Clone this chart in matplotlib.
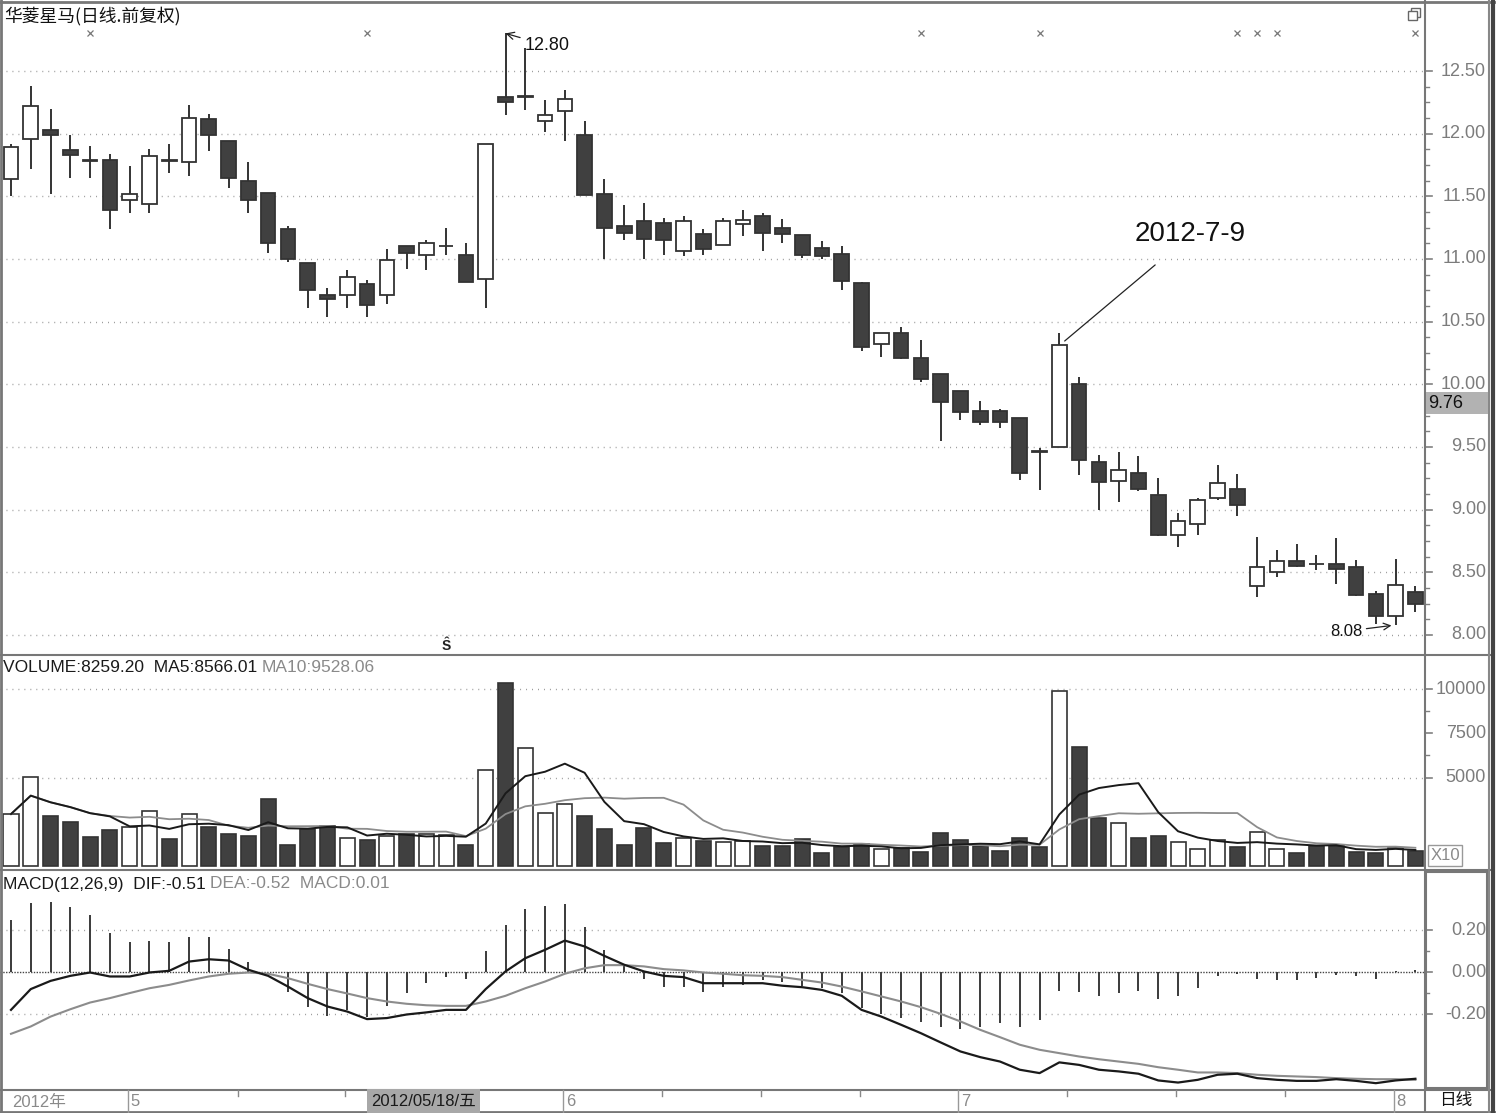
import numpy as np
import pandas as pd
import matplotlib
matplotlib.use('Agg')
import matplotlib.pyplot as plt
import matplotlib.transforms as mtrans
from matplotlib.patches import Rectangle

plt.rcParams['font.family'] = ['Liberation Sans', 'Noto Sans CJK SC', 'DejaVu Sans']

W, H = 1496, 1113

# ---------------- data ----------------
stock_title = '华菱星马(日线.前复权)'

opens = [11.64, 11.96, 12.03, 11.87, 11.79, 11.79, 11.47, 11.44, 11.79, 11.77,
         12.12, 11.94, 11.625, 11.53, 11.24, 10.965, 10.715, 10.71, 10.80, 10.71,
         11.10, 11.03, 11.10, 11.035, 10.84, 12.29, 12.29, 12.10, 12.18, 11.99,
         11.52, 11.26, 11.305, 11.285, 11.06, 11.20, 11.11, 11.28, 11.34, 11.245,
         11.19, 11.085, 11.04, 10.805, 10.32, 10.41, 10.21, 10.08, 9.95, 9.79,
         9.79, 9.73, 9.465, 9.50, 10.00, 9.38, 9.23, 9.295, 9.12, 8.80,
         8.885, 9.095, 9.165, 8.39, 8.50, 8.59, 8.57, 8.57, 8.54, 8.325,
         8.15, 8.345]
highs = [11.915, 12.38, 12.20, 11.99, 11.90, 11.84, 11.74, 11.875, 11.92, 12.23,
         12.155, 11.94, 11.77, 11.53, 11.26, 10.965, 10.77, 10.91, 10.83, 11.08,
         11.10, 11.15, 11.245, 11.13, 11.915, 12.80, 12.68, 12.27, 12.35, 12.10,
         11.64, 11.43, 11.45, 11.33, 11.34, 11.24, 11.325, 11.39, 11.37, 11.32,
         11.19, 11.145, 11.10, 10.82, 10.41, 10.455, 10.355, 10.08, 9.95, 9.87,
         9.80, 9.73, 9.49, 10.41, 10.06, 9.44, 9.46, 9.43, 9.25, 8.97,
         9.095, 9.36, 9.285, 8.785, 8.68, 8.73, 8.64, 8.77, 8.60, 8.35,
         8.61, 8.39]
lows = [11.50, 11.72, 11.52, 11.65, 11.65, 11.24, 11.37, 11.37, 11.69, 11.66,
        11.86, 11.57, 11.37, 11.045, 10.98, 10.61, 10.535, 10.61, 10.535, 10.64,
        10.92, 10.91, 11.03, 10.82, 10.61, 12.15, 12.19, 12.01, 11.94, 11.51,
        11.00, 11.15, 11.00, 11.03, 11.02, 11.03, 11.11, 11.18, 11.06, 11.125,
        11.01, 11.00, 10.75, 10.265, 10.215, 10.20, 10.02, 9.55, 9.715, 9.675,
        9.65, 9.24, 9.16, 9.50, 9.28, 9.00, 9.06, 9.15, 8.79, 8.705,
        8.80, 9.08, 8.95, 8.305, 8.46, 8.545, 8.52, 8.41, 8.31, 8.09,
        8.08, 8.18]
closes = [11.89, 12.22, 11.99, 11.83, 11.78, 11.39, 11.52, 11.82, 11.78, 12.125,
          11.99, 11.65, 11.47, 11.13, 11.00, 10.75, 10.68, 10.86, 10.63, 10.99,
          11.05, 11.125, 11.10, 10.82, 11.915, 12.25, 12.30, 12.15, 12.28, 11.51,
          11.245, 11.21, 11.16, 11.15, 11.305, 11.08, 11.30, 11.31, 11.21, 11.20,
          11.03, 11.02, 10.825, 10.30, 10.41, 10.21, 10.04, 9.86, 9.78, 9.70,
          9.70, 9.29, 9.46, 10.31, 9.40, 9.22, 9.32, 9.165, 8.80, 8.91,
          9.08, 9.21, 9.04, 8.545, 8.59, 8.55, 8.565, 8.53, 8.32, 8.15,
          8.40, 8.25]
volumes = [2940, 5020, 2850, 2510, 1620, 2040, 2190, 3090, 1550, 2940,
           2190, 1790, 1700, 3770, 1210, 2090, 2280, 1585, 1450, 1720,
           1790, 1810, 1755, 1210, 5430, 10340, 6660, 3020, 3490, 2850,
           2110, 1210, 2170, 1280, 1600, 1400, 1380, 1415, 1130, 1130,
           1530, 715, 1095, 1265, 940, 1000, 810, 1890, 1450, 1150,
           870, 1600, 1055, 9905, 6755, 2735, 2430, 1600, 1700, 1360,
           940, 1470, 1055, 1925, 940, 720, 1150, 1150, 810, 720,
           1020, 826]
dif = [-0.178, -0.079, -0.040, -0.016, 0.000, -0.019, -0.019, 0.000, 0.008, 0.052,
       0.063, 0.057, 0.013, -0.016, -0.067, -0.122, -0.162, -0.186, -0.222, -0.217,
       -0.200, -0.190, -0.178, -0.178, -0.079, 0.005, 0.068, 0.108, 0.152, 0.124,
       0.079, 0.037, 0.005, -0.016, -0.022, -0.051, -0.051, -0.051, -0.051, -0.063,
       -0.070, -0.083, -0.111, -0.178, -0.210, -0.249, -0.289, -0.333, -0.376, -0.403,
       -0.424, -0.463, -0.479, -0.428, -0.440, -0.463, -0.471, -0.482, -0.514, -0.524,
       -0.511, -0.487, -0.482, -0.503, -0.511, -0.516, -0.516, -0.508, -0.516, -0.527,
       -0.514, -0.506]
dea = [-0.292, -0.257, -0.210, -0.175, -0.143, -0.122, -0.098, -0.075, -0.059, -0.038,
       -0.019, -0.006, 0.000, -0.006, -0.027, -0.054, -0.079, -0.100, -0.122, -0.138,
       -0.149, -0.156, -0.159, -0.159, -0.138, -0.111, -0.075, -0.043, -0.006, 0.020,
       0.035, 0.035, 0.029, 0.016, 0.010, 0.000, -0.006, -0.013, -0.016, -0.022,
       -0.035, -0.048, -0.067, -0.090, -0.114, -0.138, -0.165, -0.197, -0.233, -0.273,
       -0.308, -0.344, -0.368, -0.384, -0.400, -0.413, -0.424, -0.435, -0.451, -0.463,
       -0.476, -0.476, -0.479, -0.487, -0.492, -0.495, -0.498, -0.503, -0.506, -0.508,
       -0.508, -0.511]
macd_hist = [0.248, 0.333, 0.338, 0.310, 0.275, 0.190, 0.143, 0.151, 0.143, 0.171,
             0.171, 0.114, 0.052, 0.003, -0.095, -0.165, -0.206, -0.178, -0.210, -0.159,
             -0.100, -0.050, -0.020, -0.030, 0.100, 0.224, 0.300, 0.317, 0.324, 0.216,
             0.108, 0.030, -0.030, -0.067, -0.067, -0.095, -0.070, -0.060, -0.035, -0.043,
             -0.063, -0.075, -0.098, -0.170, -0.197, -0.217, -0.238, -0.260, -0.270, -0.260,
             -0.240, -0.260, -0.225, -0.087, -0.095, -0.114, -0.100, -0.090, -0.127, -0.114,
             -0.075, -0.016, -0.005, -0.030, -0.038, -0.038, -0.027, -0.010, -0.019, -0.030,
             0.005, 0.010]

price_ticks = [8.00, 8.50, 9.00, 9.50, 10.00, 10.50, 11.00, 11.50, 12.00, 12.50]
volume_ticks = [5000, 7500, 10000]
volume_grid = [5000, 10000]
volume_minor = [6250, 8750]
macd_ticks = [-0.20, 0.00, 0.20]
macd_minor = [-0.10, 0.10]

month_starts = [6, 28, 48, 70]
month_labels = ['5', '6', '7', '8']
year_label = '2012年'
week_ticks = [11.5, 16.9, 32.9, 37.9, 42.9, 53.4, 58.9, 64.4]
info_marks = [4, 18, 46, 52, 62, 63, 64, 71]
cursor_idx = 18
cursor_date = '2012/05/18/五'
cursor_price = 9.76
s_mark_idx = 22
event_idx = 53
event_label = '2012-7-9'
max_idx = 25
min_idx = 70

volume_text = 'VOLUME:8259.20  MA5:8566.01'
ma10_text = 'MA10:9528.06'
macd_text = 'MACD(12,26,9)  DIF:-0.51'
macd_text2 = 'DEA:-0.52  MACD:0.01'
period_label = '日线'

# ---------------- derived ----------------
o = np.array(opens); h = np.array(highs); l = np.array(lows); c = np.array(closes)
v = np.array(volumes, dtype=float)
x = np.arange(len(o))
up = c >= o
ma5 = pd.Series(v).rolling(5, min_periods=1).mean().values
ma10 = pd.Series(v).rolling(10, min_periods=1).mean().values

DARK = '#333333'
FILL = '#404040'
GRID = '#9a9a9a'
LAB = '#7c7c7c'
AXC = '#808080'

fig = plt.figure(figsize=(W / 100, H / 100), dpi=100)
fig.patch.set_facecolor('white')


def px_axes(x0, y0, x1, y1, **kw):
    return fig.add_axes([x0 / W, 1 - y1 / H, (x1 - x0) / W, (y1 - y0) / H], **kw)


AX_R = 1425
ax_p = px_axes(0, 0, AX_R, 655)
ax_v = px_axes(0, 655, AX_R, 870)
ax_m = px_axes(0, 870, AX_R, 1090)
for a in (ax_p, ax_v, ax_m):
    a.set_xlim(-0.556, 71.486)
    for s in a.spines.values():
        s.set_visible(False)
    a.set_xticks([])
    a.set_yticks([])
    a.set_facecolor('white')
ax_p.set_ylim(7.8404, 13.0665)
ax_v.set_ylim(-226, 11934)
ax_m.set_ylim(-0.5595, 0.488)

dots = (0, (0.7, 3.6))

# ---- price panel ----
for pv in price_ticks:
    ax_p.axhline(pv, color=GRID, lw=1.0, ls=dots, zorder=0)
body_lo = np.minimum(o, c)
body_hi = np.maximum(o, c)
ax_p.vlines(x, l, body_lo, color=DARK, lw=1.4, zorder=2)
ax_p.vlines(x, body_hi, h, color=DARK, lw=1.4, zorder=2)
ax_p.bar(x, np.maximum(body_hi - body_lo, 0.004), bottom=body_lo, width=0.74,
         color=np.where(up, 'white', FILL), edgecolor=DARK, linewidth=1.3, zorder=3)

tr_top = mtrans.blended_transform_factory(ax_p.transData, ax_p.transAxes)
ax_p.plot(info_marks, [1 - 33 / 655] * len(info_marks), 'x', ms=4, mew=0.9,
          color='#777777', transform=tr_top, clip_on=False)
ax_p.text(s_mark_idx, 1 - 646 / 655, 'Ŝ', transform=tr_top, ha='center', va='center',
          fontsize=10, fontweight='bold', color='#222222')

ax_p.annotate('12.80', xy=(max_idx, h[max_idx]), xytext=(13.5, -8.5), textcoords='offset points',
              ha='left', va='center', fontsize=13, color='#111111',
              arrowprops=dict(arrowstyle='->', color='#222222', lw=0.9, shrinkA=1, shrinkB=0))
ax_p.annotate('8.08', xy=(min_idx, l[min_idx]), xytext=(-24, -4.5), textcoords='offset points',
              ha='right', va='center', fontsize=12, color='#111111',
              arrowprops=dict(arrowstyle='->', color='#222222', lw=0.9, shrinkA=1, shrinkB=3))
ax_p.annotate('', xy=(event_idx, c[event_idx]), xytext=(69, 58), textcoords='offset points',
              arrowprops=dict(arrowstyle='-', color='#222222', lw=0.9, shrinkA=0, shrinkB=5))
ax_p.annotate(event_label, xy=(event_idx, c[event_idx]), xytext=(94, 80), textcoords='offset points',
              ha='center', va='center', fontsize=20, color='#111111')

# ---- volume panel ----
for gv in volume_grid:
    ax_v.axhline(gv, color=GRID, lw=1.0, ls=dots, zorder=0)
ax_v.bar(x, v, width=0.76, color=np.where(up, 'white', FILL), edgecolor=DARK,
         linewidth=1.2, zorder=2)
ax_v.plot(x, ma10, color='#8c8c8c', lw=1.3, zorder=3)
ax_v.plot(x, ma5, color='#1a1a1a', lw=1.4, zorder=4)

# ---- MACD panel ----
for gv in macd_ticks:
    if gv == 0:
        ax_m.axhline(0, color='#444444', lw=1.0, ls=(0, (1, 1)), zorder=0)
    else:
        ax_m.axhline(gv, color=GRID, lw=1.0, ls=dots, zorder=0)
ax_m.vlines(x, 0, macd_hist, color='#3a3a3a', lw=1.4, zorder=2)
ax_m.plot(x, dea, color='#8c8c8c', lw=1.5, zorder=3)
ax_m.plot(x, dif, color='#1a1a1a', lw=1.6, zorder=4)


# ---- right axes ----
def right_axis(ax, majors, labels, minors):
    tr = mtrans.blended_transform_factory(ax.transAxes, ax.transData)
    for val, lab in zip(majors, labels):
        ax.plot([1, 1 + 7 / AX_R], [val, val], transform=tr, color=AXC, lw=1.2, clip_on=False)
        ax.text(1486 / AX_R, val, lab, transform=tr, ha='right', va='center',
                color=LAB, fontsize=13, clip_on=False)
    for val in minors:
        ax.plot([1, 1 + 4 / AX_R], [val, val], transform=tr, color=AXC, lw=1.0, clip_on=False)


price_minor = [pv + k * 0.125 for pv in price_ticks[:-1] for k in (1, 2, 3)]
right_axis(ax_p, price_ticks, ['%.2f' % p for p in price_ticks], price_minor)
right_axis(ax_v, volume_ticks, [str(t) for t in volume_ticks], volume_minor)
right_axis(ax_m, macd_ticks, ['%.2f' % t for t in macd_ticks], macd_minor)

# ---- overlay for frames and text ----
ov = fig.add_axes([0, 0, 1, 1], zorder=10)
ov.set_xlim(0, W)
ov.set_ylim(H, 0)
ov.axis('off')
ov.patch.set_alpha(0)

ov.plot([0, 1490], [655, 655], color='#777777', lw=1.5)
ov.plot([0, 1490], [870, 870], color='#777777', lw=1.5)
ov.plot([0, 1490], [1090, 1090], color='#777777', lw=1.5)
ov.plot([AX_R, AX_R], [0, 1113], color='#777777', lw=1.5)
ov.plot([1.5, 1.5], [0, 1113], color='#777777', lw=2)
ov.plot([0, 1496], [1.5, 1.5], color='#777777', lw=2)
ov.plot([0, 1496], [1111.5, 1111.5], color='#777777', lw=2)
ov.plot([1489, 1489], [0, 1113], color='#888888', lw=1.5)
ov.plot([1493, 1493], [0, 1113], color='#444444', lw=3)
ov.add_patch(Rectangle((1426.5, 872), 60.5, 216, fill=False, ec='#777777', lw=1.5))

# restore icon
ov.add_patch(Rectangle((1411, 8), 9, 9, fc='white', ec='#666666', lw=1))
ov.add_patch(Rectangle((1408, 11), 9, 9, fc='white', ec='#666666', lw=1))

# cursor price box
ypix = H - ax_p.transData.transform((0, cursor_price))[1]
ov.add_patch(Rectangle((1426, ypix - 22), 62, 22, fc='#b2b2b2', ec='none', zorder=5))
ov.text(1428, ypix - 11, '%.2f' % cursor_price, ha='left', va='center', fontsize=13,
        color='#111111', zorder=6)

# X10 box
ov.add_patch(Rectangle((1428, 845), 34, 21, fill=False, ec='#999999', lw=1))
ov.text(1445, 856, 'X10', ha='center', va='center', fontsize=12, color='#8a8a8a')

# header texts
ov.text(4, 16, stock_title, ha='left', va='center', fontsize=12.8, color='#111111',
        family=['Noto Sans CJK SC', 'DejaVu Sans'])
ov.text(3, 667, volume_text, ha='left', va='center', fontsize=12.5, color='#1a1a1a')
ov.text(262, 667, ma10_text, ha='left', va='center', fontsize=12.5, color='#8a8a8a')
ov.text(3, 884, macd_text, ha='left', va='center', fontsize=12.5, color='#1a1a1a')
ov.text(210, 884, macd_text2, ha='left', va='center', fontsize=12.5, color='#8a8a8a')

# date strip
bt = mtrans.blended_transform_factory(ax_p.transData, ov.transData)
ov.text(12, 1102, year_label, ha='left', va='center', fontsize=12, color='#8a8a8a')
for idx, lab in zip(month_starts, month_labels):
    ov.plot([idx - 0.1, idx - 0.1], [1090, 1113], transform=bt, color='#999999', lw=1)
    ov.text(idx + 0.05, 1102, lab, transform=bt, ha='left', va='center', fontsize=12, color='#8a8a8a')
for wt in week_ticks:
    ov.plot([wt, wt], [1090, 1096], transform=bt, color='#888888', lw=1)
ov.text(cursor_idx + 0.2, 1101, cursor_date, transform=bt, ha='left', va='center', fontsize=12,
        color='#1a1a1a', zorder=7,
        bbox=dict(boxstyle='square,pad=0.25', fc='#a8a8a8', ec='none'))
ov.text(1456, 1101, period_label, ha='center', va='center', fontsize=12, color='#111111',
        family=['Noto Sans CJK SC', 'DejaVu Sans'])

fig.savefig('out.png', dpi=100, facecolor='white')
